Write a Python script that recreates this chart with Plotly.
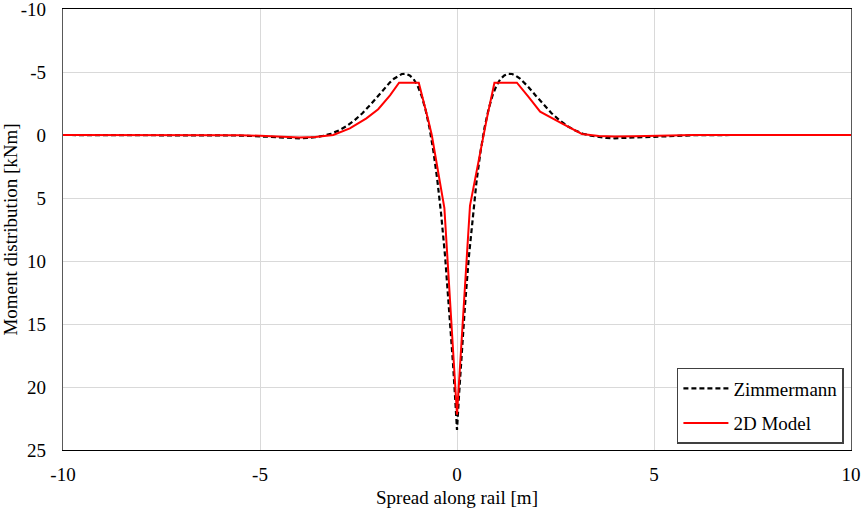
import plotly.graph_objects as go

# Spread along the rail [m] and bending moment [kNm] (positive = sagging, plotted downward)
zimmermann_x = [-10.0, -8.5, -7.0, -6.0, -5.6, -5.2, -4.8, -4.4, -4.0, -3.8, -3.6, -3.4, -3.2,
                -3.0, -2.8, -2.6, -2.4, -2.2, -2.0, -1.8, -1.7, -1.6, -1.5, -1.4, -1.3, -1.2,
                -1.1, -1.0, -0.9, -0.8, -0.7, -0.6, -0.5, -0.4, -0.3, -0.2, -0.1, -0.05, 0.0,
                0.05, 0.1, 0.2, 0.3, 0.4, 0.5, 0.6, 0.7, 0.8, 0.9, 1.0, 1.1, 1.2, 1.3, 1.4,
                1.5, 1.6, 1.7, 1.8, 2.0, 2.2, 2.4, 2.6, 2.8, 3.0, 3.2, 3.4, 3.6, 3.8, 4.0,
                4.4, 4.8, 5.2, 5.6, 6.0, 7.0, 8.5, 10.0]
zimmermann_m = [0.0, 0.0, 0.0, 0.02, 0.04, 0.08, 0.15, 0.22, 0.26, 0.24, 0.18, 0.06, -0.10,
                -0.36, -0.71, -1.17, -1.73, -2.40, -3.12, -3.85, -4.18, -4.47, -4.69, -4.84, -4.86, -4.73,
                -4.43, -3.91, -3.12, -2.03, -0.59, 1.26, 3.56, 6.36, 9.71, 13.65, 18.20, 20.72, 23.4,
                20.72, 18.20, 13.65, 9.71, 6.36, 3.56, 1.26, -0.59, -2.03, -3.12, -3.91, -4.43, -4.73, -4.86, -4.84,
                -4.69, -4.47, -4.18, -3.85, -3.12, -2.40, -1.73, -1.17, -0.71, -0.36, -0.10, 0.06, 0.18, 0.24, 0.26,
                0.22, 0.15, 0.08, 0.04, 0.02, 0.0, 0.0, 0.0]

model_x = [-10.0, -7.0, -5.5, -5.0, -4.5, -4.0, -3.6, -3.14, -2.72, -2.3, -2.0, -1.87, -1.7,
           -1.47, -0.97, -0.73, -0.64, -0.32, 0.0, 0.33, 0.67, 0.75, 0.95, 1.52, 1.81, 2.11,
           2.66, 3.0, 3.17, 3.6, 4.0, 4.5, 5.0, 6.0, 10.0]
model_m = [0.0, 0.0, 0.02, 0.06, 0.14, 0.2, 0.16, 0.0, -0.53, -1.32, -2.05, -2.51, -3.15,
           -4.15, -4.15, -1.2, 0.0, 5.8, 22.2, 5.6, 0.0, -1.2, -4.15, -4.15, -3.04, -1.85,
           -0.93, -0.35, -0.08, 0.08, 0.12, 0.1, 0.05, 0.0, 0.0]

x_ticks = [-10, -5, 0, 5, 10]
y_ticks = [-10, -5, 0, 5, 10, 15, 20, 25]

FONT = "Liberation Serif, Times New Roman, serif"

fig = go.Figure()
fig.add_trace(go.Scatter(
    x=zimmermann_x, y=zimmermann_m, mode="lines", name="Zimmermann",
    legendgroup="a",
    line=dict(color="black", width=2.2, dash="5px,3px"),
))
fig.add_trace(go.Scatter(
    x=model_x, y=model_m, mode="lines", name="2D Model",
    legendgroup="b",
    line=dict(color="#ff0000", width=2),
))

fig.update_layout(
    width=863, height=509,
    margin=dict(l=63, r=12, t=9, b=59),
    paper_bgcolor="white", plot_bgcolor="white",
    font=dict(family=FONT, size=19, color="black"),
    showlegend=True,
    legend=dict(
        x=0.991, y=0.186, xanchor="right", yanchor="top",
        bgcolor="white", bordercolor="#404040", borderwidth=1.5,
        font=dict(family=FONT, size=19, color="black"),
        tracegroupgap=7, traceorder="grouped", itemwidth=45,
    ),
    xaxis=dict(
        range=[-10.0001, 10.0001], tickvals=x_ticks, ticktext=[str(v) for v in x_ticks],
        showgrid=True, gridcolor="#d9d9d9", gridwidth=1, zeroline=False,
        showline=True, linecolor="black", linewidth=1.3, mirror=True,
        ticks="", ticklabelstandoff=7, automargin=False, ticklabeloverflow="allow",
        title=dict(text="Spread along rail [m]", standoff=6,
                   font=dict(family=FONT, size=19)),
    ),
    yaxis=dict(
        range=[25.0001, -10.0001], tickvals=y_ticks, ticktext=[str(v) for v in y_ticks],
        showgrid=True, gridcolor="#d9d9d9", gridwidth=1, zeroline=False,
        showline=True, linecolor="#595959", linewidth=1.3, mirror=True,
        ticks="", ticklabelstandoff=12, automargin=False, ticklabeloverflow="allow",
        title=dict(text="Moment distribution [kNm]", standoff=10,
                   font=dict(family=FONT, size=19)),
    ),
)

fig.write_html("out.html")
